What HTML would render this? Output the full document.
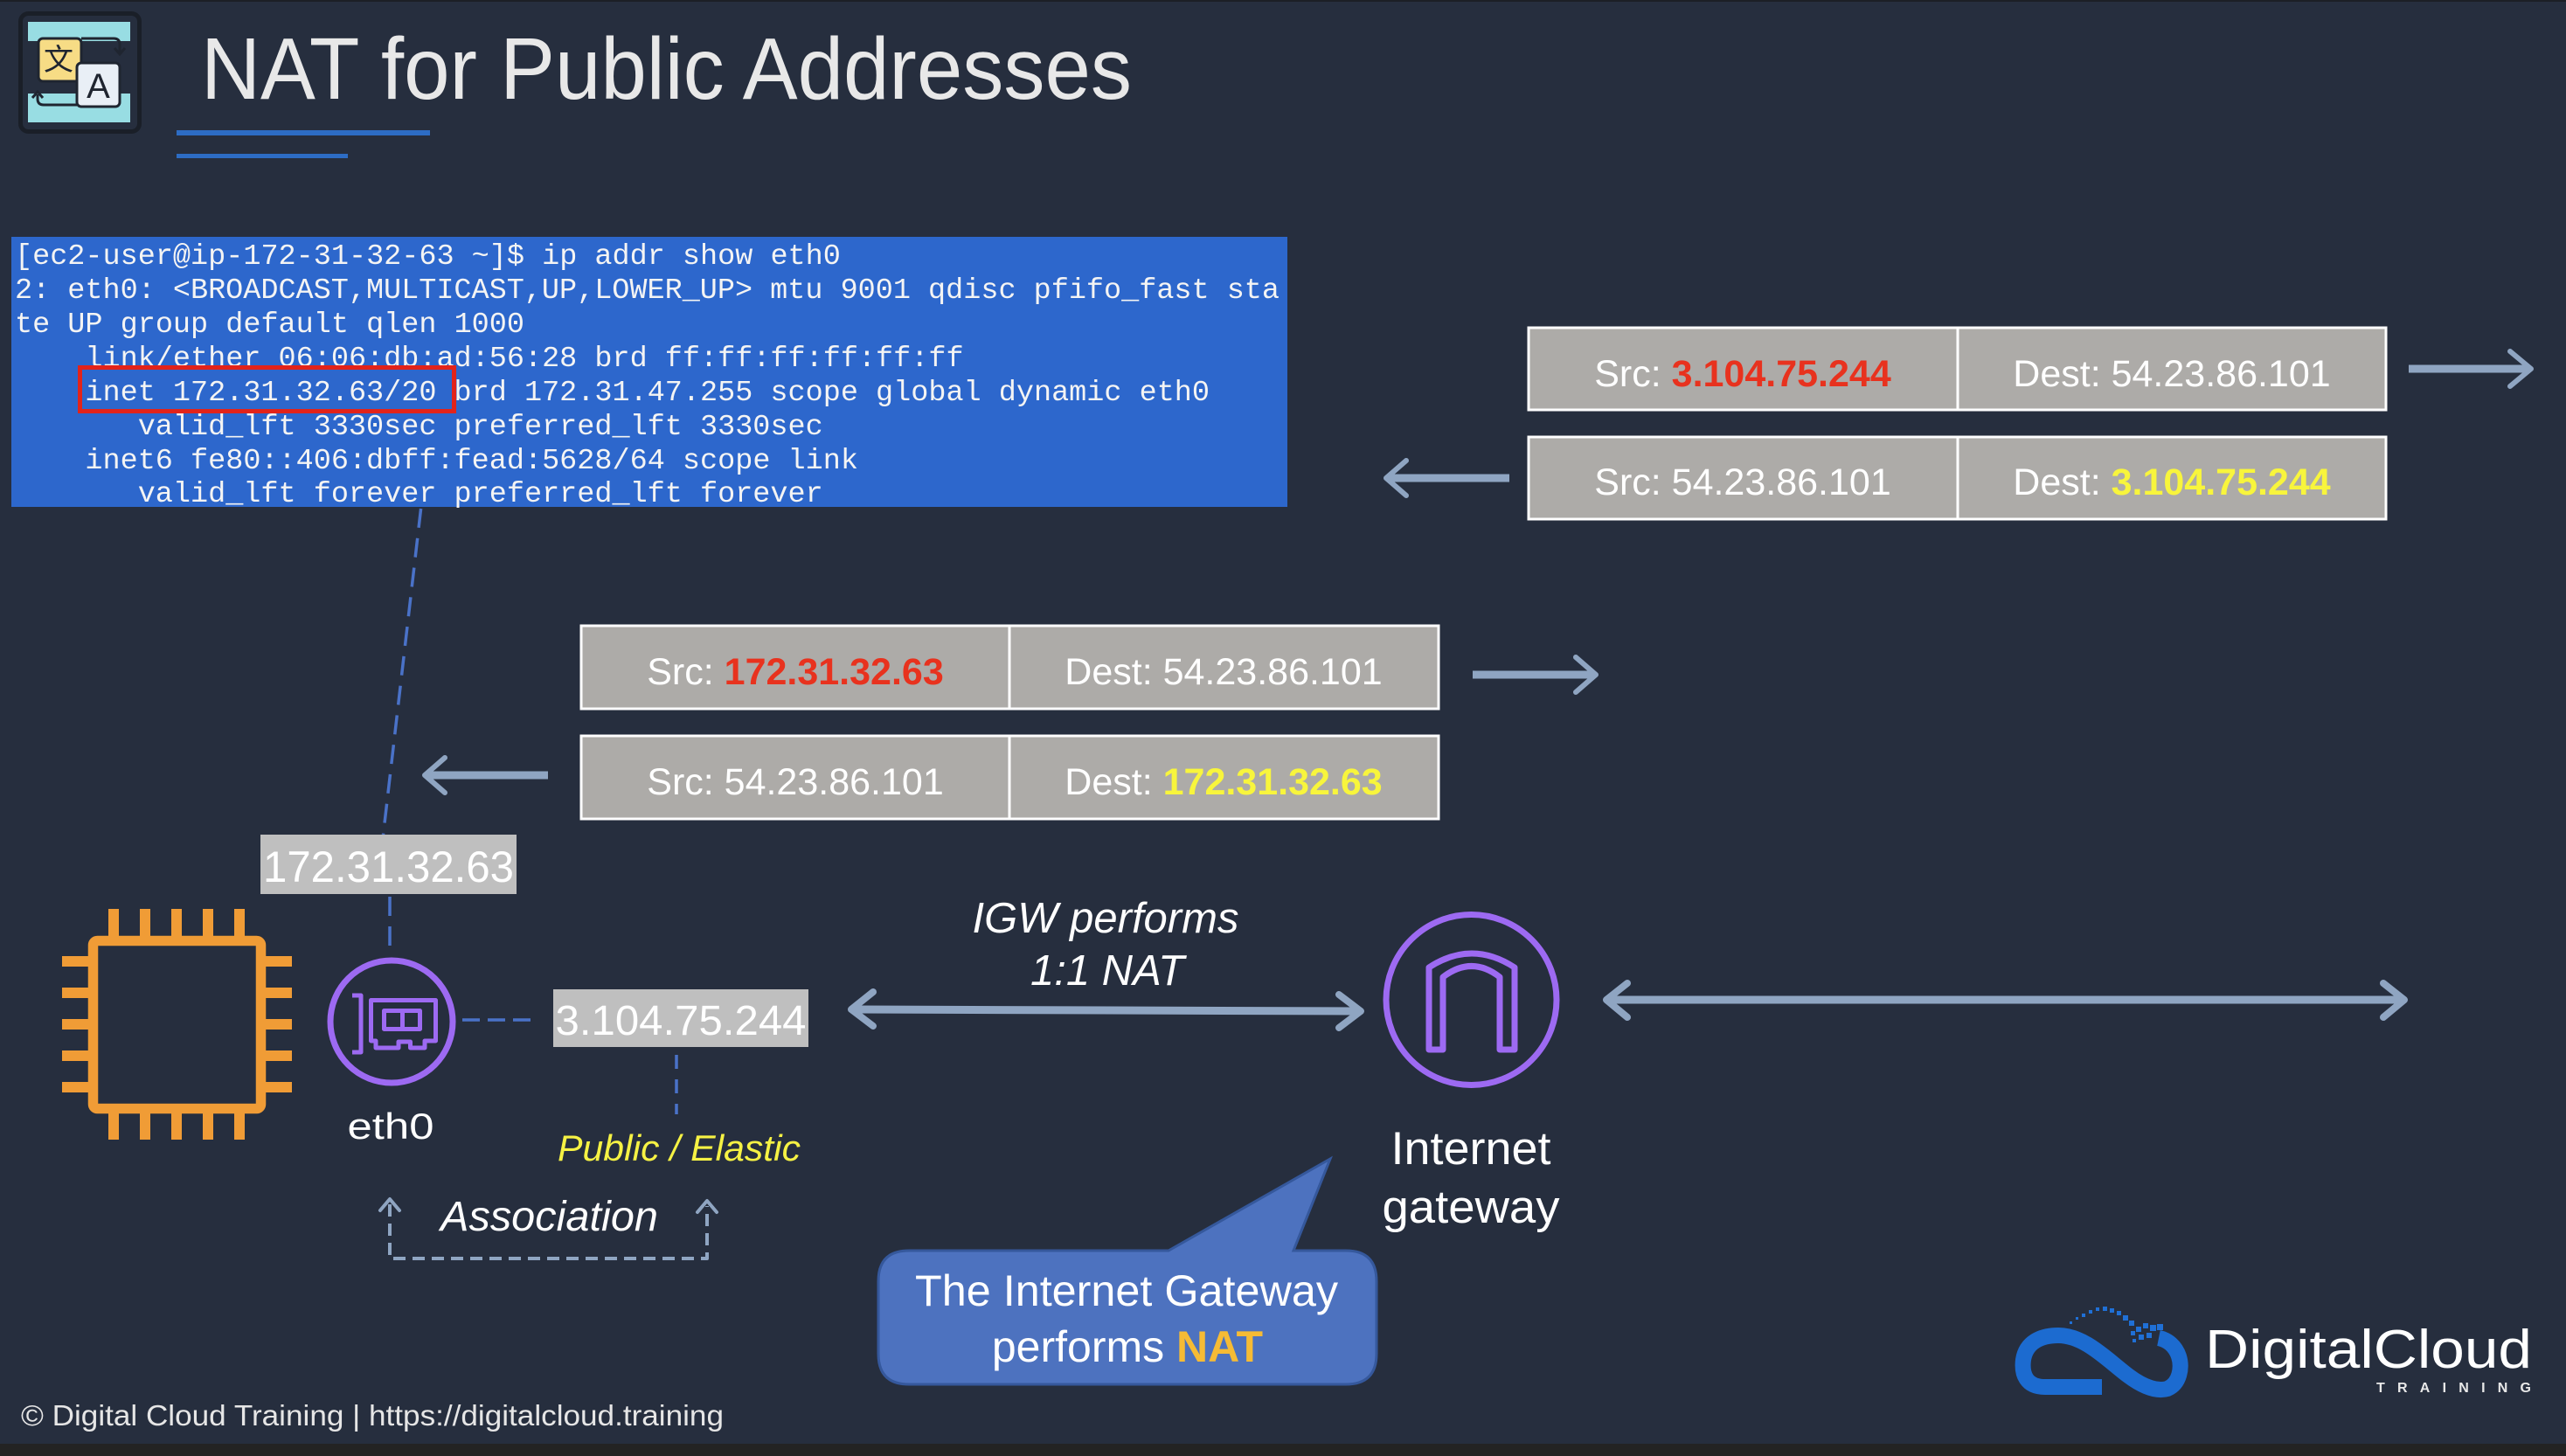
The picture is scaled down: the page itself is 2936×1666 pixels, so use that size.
<!DOCTYPE html>
<html>
<head>
<meta charset="utf-8">
<style>
html,body{margin:0;padding:0;background:#262e3e;overflow:hidden;}
svg{display:block;}
</style>
</head>
<body>
<svg width="2936" height="1666" viewBox="0 0 2936 1666" xmlns="http://www.w3.org/2000/svg">
  <rect x="0" y="0" width="2936" height="1666" fill="#262e3e"/>
  <rect x="0" y="0" width="2936" height="2" fill="#1c1f26"/>
  <rect x="0" y="1652" width="2936" height="14" fill="#232323"/>

  <!-- Top-left translate icon -->
  <rect x="23.5" y="15.5" width="136" height="135" rx="9" fill="#262e3e" stroke="#1a1f28" stroke-width="5"/>
  <rect x="32" y="25" width="117" height="22" fill="#98dde3"/>
  <rect x="32" y="107" width="117" height="33" fill="#98dde3"/>
  <path d="M93,44 H130 Q137,44 137,51 V60" fill="none" stroke="#1f2530" stroke-width="3"/>
  <path d="M131,55 L137,62 L143,55" fill="none" stroke="#1f2530" stroke-width="3"/>
  <path d="M88,120 H50 Q43,120 43,113 V108" fill="none" stroke="#1f2530" stroke-width="3"/>
  <path d="M37,112 L43,105 L49,112" fill="none" stroke="#1f2530" stroke-width="3"/>
  <rect x="44" y="44" width="49" height="49" rx="5" fill="#f7dc85" stroke="#1f2530" stroke-width="3"/>
  <text x="67" y="80" font-family="'Noto Sans CJK SC', 'WenQuanYi Zen Hei', sans-serif" font-size="34" fill="#1f2530" text-anchor="middle">文</text>
  <rect x="88" y="72" width="49" height="50" rx="5" fill="#e9eff6" stroke="#1f2530" stroke-width="3"/>
  <text x="112.5" y="112" font-family="'Liberation Sans', sans-serif" font-size="40" fill="#1f2530" text-anchor="middle">A</text>

  <!-- Title -->
  <text x="230" y="113" font-family="'Liberation Sans', sans-serif" font-size="100" fill="#e8e8e8" textLength="1065" lengthAdjust="spacingAndGlyphs">NAT for Public Addresses</text>
  <rect x="202" y="149" width="290" height="6" fill="#2d6cc4"/>
  <rect x="202" y="176" width="196" height="5" fill="#2d6cc4"/>

  <!-- Terminal -->
  <rect x="13" y="271" width="1460" height="309" fill="#2d67cc"/>
  <g font-family="'Liberation Mono', monospace" font-size="33.5" fill="#f4f4f4">
    <text x="17" y="302">[ec2-user@ip-172-31-32-63 ~]$ ip addr show eth0</text>
    <text x="17" y="341" textLength="1447" lengthAdjust="spacingAndGlyphs">2: eth0: &lt;BROADCAST,MULTICAST,UP,LOWER_UP&gt; mtu 9001 qdisc pfifo_fast sta</text>
    <text x="17" y="380">te UP group default qlen 1000</text>
    <text x="97.4" y="419">link/ether 06:06:db:ad:56:28 brd ff:ff:ff:ff:ff:ff</text>
    <text x="97.4" y="458">inet 172.31.32.63/20 brd 172.31.47.255 scope global dynamic eth0</text>
    <text x="157.7" y="497">valid_lft 3330sec preferred_lft 3330sec</text>
    <text x="97.4" y="536">inet6 fe80::406:dbff:fead:5628/64 scope link</text>
    <text x="157.7" y="574">valid_lft forever preferred_lft forever</text>
  </g>
  <rect x="91.5" y="420.5" width="428" height="50" fill="none" stroke="#e2231a" stroke-width="5"/>

  <!-- Dashed blue connectors -->
  <g stroke="#4a72c8" stroke-width="3.5" fill="none" stroke-dasharray="22 12">
    <line x1="481.6" y1="582" x2="438.5" y2="955"/>
    <line x1="446" y1="1026" x2="446" y2="1094"/>
    <line x1="529" y1="1167" x2="612" y2="1167" stroke-dasharray="20 9"/>
    <line x1="774" y1="1207" x2="774" y2="1275" stroke-dasharray="16 12"/>
  </g>

  <!-- Packet rows -->
  <g font-family="'Liberation Sans', sans-serif" font-size="43" fill="#ffffff" text-anchor="middle">
    <rect x="1749" y="375" width="981" height="94" fill="#adaba8" stroke="#ffffff" stroke-width="3"/>
    <line x1="2240" y1="375" x2="2240" y2="469" stroke="#ffffff" stroke-width="3"/>
    <text x="1994" y="442">Src: <tspan fill="#e8321e" font-weight="bold">3.104.75.244</tspan></text>
    <text x="2485" y="442">Dest: 54.23.86.101</text>

    <rect x="1749" y="500" width="981" height="94" fill="#adaba8" stroke="#ffffff" stroke-width="3"/>
    <line x1="2240" y1="500" x2="2240" y2="594" stroke="#ffffff" stroke-width="3"/>
    <text x="1994" y="566">Src: 54.23.86.101</text>
    <text x="2485" y="566">Dest: <tspan fill="#f8f53c" font-weight="bold">3.104.75.244</tspan></text>

    <rect x="665" y="716" width="981" height="95" fill="#adaba8" stroke="#ffffff" stroke-width="3"/>
    <line x1="1155" y1="716" x2="1155" y2="811" stroke="#ffffff" stroke-width="3"/>
    <text x="910" y="783">Src: <tspan fill="#e8321e" font-weight="bold">172.31.32.63</tspan></text>
    <text x="1400" y="783">Dest: 54.23.86.101</text>

    <rect x="665" y="842" width="981" height="95" fill="#adaba8" stroke="#ffffff" stroke-width="3"/>
    <line x1="1155" y1="842" x2="1155" y2="937" stroke="#ffffff" stroke-width="3"/>
    <text x="910" y="909">Src: 54.23.86.101</text>
    <text x="1400" y="909">Dest: <tspan fill="#f8f53c" font-weight="bold">172.31.32.63</tspan></text>
  </g>

  <!-- Arrows -->
  <g stroke="#8fa5c2" fill="none" stroke-linecap="round" stroke-linejoin="round">
    <line x1="2756" y1="422" x2="2892" y2="422" stroke-width="9" stroke-linecap="butt"/>
    <path d="M2872,402 L2896,422 L2872,442" stroke-width="6"/>

    <line x1="1727" y1="547" x2="1590" y2="547" stroke-width="9" stroke-linecap="butt"/>
    <path d="M1609,527 L1586,547 L1609,567" stroke-width="6"/>

    <line x1="1685" y1="772" x2="1822" y2="772" stroke-width="9" stroke-linecap="butt"/>
    <path d="M1803,752 L1826,772 L1803,792" stroke-width="6"/>

    <line x1="627" y1="887" x2="490" y2="887" stroke-width="9" stroke-linecap="butt"/>
    <path d="M509,867 L486,887 L509,907" stroke-width="6"/>

    <line x1="978" y1="1155" x2="1553" y2="1157" stroke-width="9" stroke-linecap="butt"/>
    <path d="M999,1135 L974,1155 L999,1174" stroke-width="8"/>
    <path d="M1532,1138 L1557,1157 L1532,1176" stroke-width="8"/>

    <line x1="1840" y1="1144" x2="2747" y2="1144" stroke-width="9" stroke-linecap="butt"/>
    <path d="M1862,1125 L1838,1144 L1862,1164" stroke-width="8"/>
    <path d="M2727,1125 L2751,1144 L2727,1164" stroke-width="8"/>

    <path d="M446,1378 V1440 H809 V1380" stroke-width="4" stroke-dasharray="14 8" stroke-linecap="butt"/>
    <path d="M435,1385 L446,1372 L457,1385" stroke-width="4"/>
    <path d="M798,1387 L809,1374 L820,1387" stroke-width="4"/>
  </g>

  <!-- EC2 chip -->
  <g fill="#f09c36">
    <rect x="124" y="1040" width="12" height="34"/>
    <rect x="160" y="1040" width="12" height="34"/>
    <rect x="196" y="1040" width="12" height="34"/>
    <rect x="232" y="1040" width="12" height="34"/>
    <rect x="268" y="1040" width="12" height="34"/>
    <rect x="124" y="1270" width="12" height="34"/>
    <rect x="160" y="1270" width="12" height="34"/>
    <rect x="196" y="1270" width="12" height="34"/>
    <rect x="232" y="1270" width="12" height="34"/>
    <rect x="268" y="1270" width="12" height="34"/>
    <rect x="71" y="1094" width="34" height="12"/>
    <rect x="71" y="1130" width="34" height="12"/>
    <rect x="71" y="1166" width="34" height="12"/>
    <rect x="71" y="1202" width="34" height="12"/>
    <rect x="71" y="1238" width="34" height="12"/>
    <rect x="300" y="1094" width="34" height="12"/>
    <rect x="300" y="1130" width="34" height="12"/>
    <rect x="300" y="1166" width="34" height="12"/>
    <rect x="300" y="1202" width="34" height="12"/>
    <rect x="300" y="1238" width="34" height="12"/>
  </g>
  <rect x="106.5" y="1076.5" width="192" height="192" rx="5" fill="none" stroke="#f09c36" stroke-width="11.5"/>

  <!-- eth0 ENI icon -->
  <g stroke="#9d6af2" fill="none" stroke-width="5" stroke-linejoin="round">
    <circle cx="448" cy="1169" r="70" stroke-width="7"/>
    <path d="M403,1139 H413 V1204 H403"/>
    <path d="M424.5,1144.5 H498.5 V1191 H486 V1199 H469.5 V1192 H456 V1199 H430 V1191 H424.5 Z"/>
    <rect x="439.5" y="1156.5" width="41" height="21"/>
    <line x1="460.5" y1="1156.5" x2="460.5" y2="1177.5"/>
  </g>

  <!-- Labels -->
  <rect x="298" y="955" width="293" height="68" fill="#bfbfbf"/>
  <text x="444.5" y="1009" font-family="'Liberation Sans', sans-serif" font-size="50" fill="#ffffff" text-anchor="middle" textLength="287" lengthAdjust="spacingAndGlyphs">172.31.32.63</text>
  <rect x="633" y="1132" width="292" height="66" fill="#bfbfbf"/>
  <text x="779" y="1184" font-family="'Liberation Sans', sans-serif" font-size="48" fill="#ffffff" text-anchor="middle" textLength="287" lengthAdjust="spacingAndGlyphs">3.104.75.244</text>

  <text x="447" y="1303" font-family="'Liberation Sans', sans-serif" font-size="42" fill="#ffffff" text-anchor="middle" textLength="99" lengthAdjust="spacingAndGlyphs">eth0</text>
  <text x="777" y="1328" font-family="'Liberation Sans', sans-serif" font-size="42" font-style="italic" fill="#f6f244" text-anchor="middle" textLength="278" lengthAdjust="spacingAndGlyphs">Public / Elastic</text>
  <text x="628.5" y="1408" font-family="'Liberation Sans', sans-serif" font-size="48" font-style="italic" fill="#ffffff" text-anchor="middle" textLength="249" lengthAdjust="spacingAndGlyphs">Association</text>

  <text x="1265" y="1067" font-family="'Liberation Sans', sans-serif" font-size="49" font-style="italic" fill="#ffffff" text-anchor="middle">IGW performs</text>
  <text x="1267" y="1127" font-family="'Liberation Sans', sans-serif" font-size="49" font-style="italic" fill="#ffffff" text-anchor="middle">1:1 NAT</text>

  <!-- Internet gateway icon -->
  <g stroke="#9d6af2" fill="none" stroke-linejoin="round">
    <circle cx="1683.5" cy="1144" r="97.5" stroke-width="7"/>
    <path d="M1635,1201 L1635,1107 Q1684,1075 1733,1107 L1733,1201 L1716,1201 L1716,1118 Q1684,1093 1651,1118 L1651,1201 Z" stroke-width="7"/>
  </g>
  <text x="1683" y="1332" font-family="'Liberation Sans', sans-serif" font-size="53" fill="#ffffff" text-anchor="middle" textLength="183" lengthAdjust="spacingAndGlyphs">Internet</text>
  <text x="1683" y="1399" font-family="'Liberation Sans', sans-serif" font-size="53" fill="#ffffff" text-anchor="middle" textLength="203" lengthAdjust="spacingAndGlyphs">gateway</text>

  <!-- Callout -->
  <path d="M1040,1431 L1337,1431 L1522,1326 L1480,1431 L1540,1431 Q1575,1431 1575,1466 L1575,1549 Q1575,1584 1540,1584 L1040,1584 Q1005,1584 1005,1549 L1005,1466 Q1005,1431 1040,1431 Z" fill="#4d72bf" stroke="#35589c" stroke-width="3"/>
  <text x="1289" y="1494" font-family="'Liberation Sans', sans-serif" font-size="50" fill="#ffffff" text-anchor="middle" textLength="484" lengthAdjust="spacingAndGlyphs">The Internet Gateway</text>
  <text x="1290" y="1558" font-family="'Liberation Sans', sans-serif" font-size="50" fill="#ffffff" text-anchor="middle">performs <tspan fill="#f6bb35" font-weight="bold">NAT</tspan></text>

  <!-- Footer -->
  <text x="24" y="1631" font-family="'Liberation Sans', sans-serif" font-size="33" fill="#e6e6e6" textLength="804" lengthAdjust="spacingAndGlyphs">© Digital Cloud Training  | https://digitalcloud.training</text>

  <!-- Logo -->
  <g>
    <path d="M2405,1587 L2340,1587 C2318,1587 2313,1572 2315,1556 C2318,1536 2335,1528 2355,1528 C2385,1528 2410,1555 2435,1574 C2455,1589 2470,1592 2480,1589 C2494,1583 2497,1565 2493,1552 C2489,1540 2480,1533 2470,1531" fill="none" stroke="#1c6bd0" stroke-width="18"/>
    <g fill="#1f70d6">
      <rect x="2368" y="1512" width="3" height="3"/>
      <rect x="2375" y="1507" width="3" height="3"/>
      <rect x="2382" y="1503" width="4" height="4"/>
      <rect x="2390" y="1499" width="4" height="4"/>
      <rect x="2398" y="1496" width="4" height="4"/>
      <rect x="2406" y="1495" width="5" height="5"/>
      <rect x="2414" y="1497" width="5" height="5"/>
      <rect x="2422" y="1500" width="5" height="5"/>
      <rect x="2429" y="1505" width="6" height="6"/>
      <rect x="2436" y="1511" width="6" height="6"/>
      <rect x="2444" y="1518" width="6" height="6"/>
      <rect x="2452" y="1514" width="6" height="6"/>
      <rect x="2460" y="1516" width="7" height="7"/>
      <rect x="2468" y="1515" width="7" height="7"/>
      <rect x="2438" y="1523" width="5" height="5"/>
      <rect x="2447" y="1527" width="6" height="6"/>
      <rect x="2456" y="1525" width="6" height="6"/>
      <rect x="2440" y="1532" width="4" height="4"/>
    </g>
    <text x="2523" y="1565" font-family="'Liberation Sans', sans-serif" font-size="62" fill="#ffffff" textLength="374" lengthAdjust="spacingAndGlyphs">DigitalCloud</text>
    <text x="2719" y="1593" font-family="'Liberation Sans', sans-serif" font-size="16" font-weight="bold" fill="#e8e8e8" textLength="177" lengthAdjust="spacing">TRAINING</text>
  </g>
</svg>
</body>
</html>
